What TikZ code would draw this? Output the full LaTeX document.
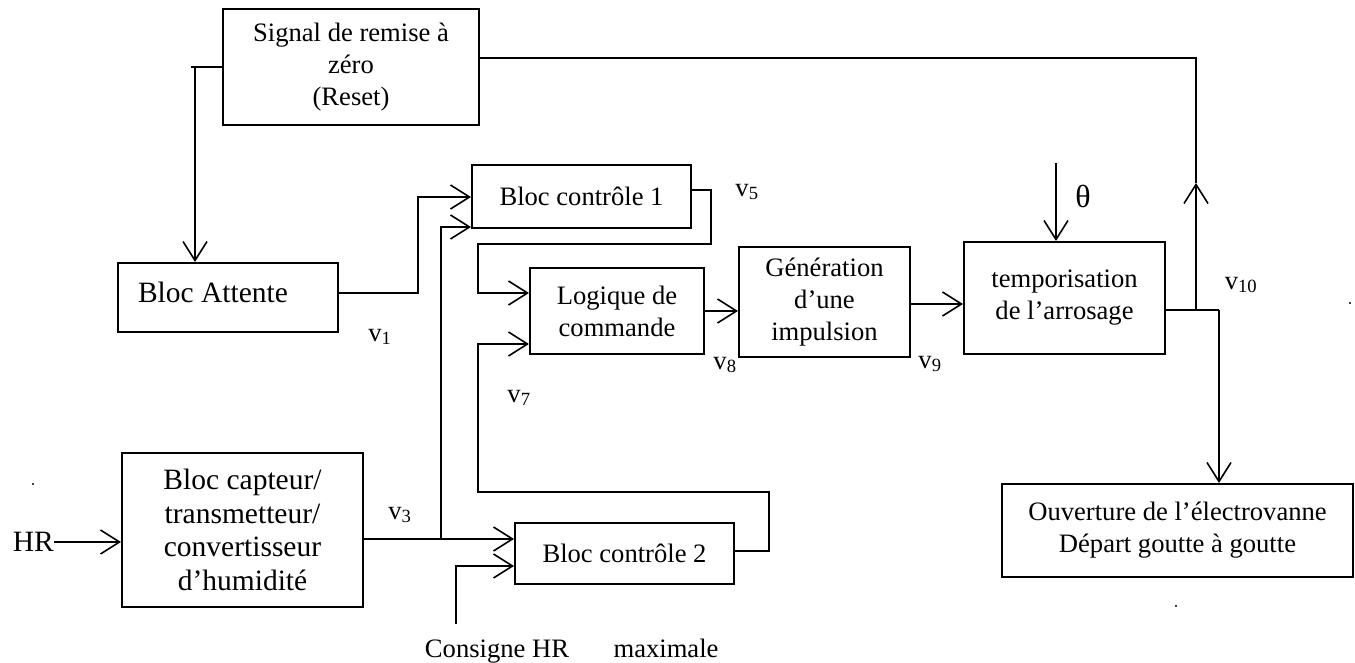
\documentclass[tikz,border=0pt]{standalone}
\usepackage{fontspec}
\setmainfont{Liberation Serif}
\usetikzlibrary{arrows.meta,calc}
\begin{document}
\begin{tikzpicture}[x=1pt,y=-1pt,
  box/.style={draw,line width=2pt,inner sep=0pt,align=center,font=\fontsize{26.6}{32}\selectfont},
  big/.style={font=\fontsize{29.5}{33.7}\selectfont},
  lbl/.style={inner sep=0pt,font=\fontsize{26.6}{32}\selectfont},
  wire/.style={line width=1.6pt},
  arr/.style={wire,-{Straight Barb[length=19pt,width=24pt]}}]
\useasboundingbox (0,0) rectangle (1355,663);

% blocks
\node[box,minimum width=256pt,minimum height=116pt] (sig) at (351,67) {Signal de remise à\\zéro\\(Reset)};
\node[box,minimum width=220pt,minimum height=69pt] (att) at (228,297.5) {};
\node[lbl,big] (attt) at (213,292) {Bloc Attente};
\node[box,big,minimum width=241pt,minimum height=154pt] (cap) at (242.5,530) {Bloc capteur/\\transmetteur/\\convertisseur\\d’humidité};
\node[box,minimum width=219pt,minimum height=63pt] (c1) at (581.5,196.5) {Bloc contrôle 1};
\node[box,minimum width=174pt,minimum height=86pt] (log) at (617,311) {Logique de\\commande};
\node[box,minimum width=171pt,minimum height=110pt] (gen) at (824.5,302) {Génération\\d’une\\impulsion};
\node[box,minimum width=201pt,minimum height=112pt] (tem) at (1064.5,298) {temporisation\\de l’arrosage};
\node[box,minimum width=351pt,minimum height=93pt] (ouv) at (1177.5,530.5) {Ouverture de l’électrovanne\\Départ goutte à goutte};
\node[box,minimum width=219pt,minimum height=61pt] (c2) at (624.5,553.5) {Bloc contrôle 2};

% free texts
\node[lbl,big,anchor=east] (hr) at (54,542) {HR};
\node[lbl,anchor=base] (cons) at (497,657) {Consigne HR};
\node[lbl,anchor=base] (maxi) at (666,657) {maximale};
\node[lbl,font=\fontsize{32}{36}\selectfont] (th) at (1083,196) {θ};
\node[lbl] (v1) at (380,337) {v\textsubscript{1}};
\node[lbl] (v3) at (400,515) {v\textsubscript{3}};
\node[lbl] (v5) at (747,192) {v\textsubscript{5}};
\node[lbl] (v7) at (519,398) {v\textsubscript{7}};
\node[lbl] (v8) at (725,365) {v\textsubscript{8}};
\node[lbl] (v9) at (930,364) {v\textsubscript{9}};
\node[lbl] (v10) at (1241,285) {v\textsubscript{10}};

% junction coordinates
\coordinate (s0) at (191,67);
\coordinate (s1) at (195,67);
\coordinate (j3) at (441,539);
\coordinate (k1) at (441,227);
\coordinate (k2a) at (418,293);
\coordinate (k2b) at (418,197);
\coordinate (p1) at (711,190);
\coordinate (p2) at (711,244);
\coordinate (p3) at (478,244);
\coordinate (p4) at (478,293);
\coordinate (q1) at (769,551);
\coordinate (q2) at (769,492);
\coordinate (q3) at (478,492);
\coordinate (q4) at (478,344);
\coordinate (ci) at (456,624);
\coordinate (ci2) at (456,566);
\coordinate (g1) at (910,304);
\coordinate (t0) at (1056,163);
\coordinate (j10) at (1196,310);
\coordinate (r1) at (1219,310);
\coordinate (um) at (1196,183);
\coordinate (t1) at (1196,58);

% connectors
\draw[wire] (sig.west) -- (s0);
\draw[arr] (s1) -- (s1 |- att.north);
\draw[arr] (hr.east) -- (hr.east -| cap.west);
\draw[arr] (cap.east |- j3) -- (j3 -| c2.west);
\draw[arr] (j3) -- (k1) -- (k1 -| c1.west);
\draw[arr] (att.east |- k2a) -- (k2a) -- (k2b) -- (k2b -| c1.west);
\draw[arr] (c1.east |- p1) -- (p1) -- (p2) -- (p3) -- (p4) -- (p4 -| log.west);
\draw[arr] (c2.east |- q1) -- (q1) -- (q2) -- (q3) -- (q4) -- (q4 -| log.west);
\draw[arr] (ci) -- (ci2) -- (ci2 -| c2.west);
\draw[arr] (log.east) -- (log.east -| gen.west);
\draw[arr] (g1) -- (g1 -| tem.west);
\draw[arr] (t0) -- (t0 |- tem.north);
\draw[wire] (tem.east |- r1) -- (r1);
\draw[arr] (r1) -- (r1 |- ouv.north);
\draw[arr] (j10) -- (um);
\draw[wire] (um) -- (t1) -- (t1 -| sig.east);

% specks
\fill (33,484) circle (1.2pt);
\fill (1350,303) circle (1.2pt);
\fill (1176,606) circle (1.2pt);
\end{tikzpicture}
\end{document}
